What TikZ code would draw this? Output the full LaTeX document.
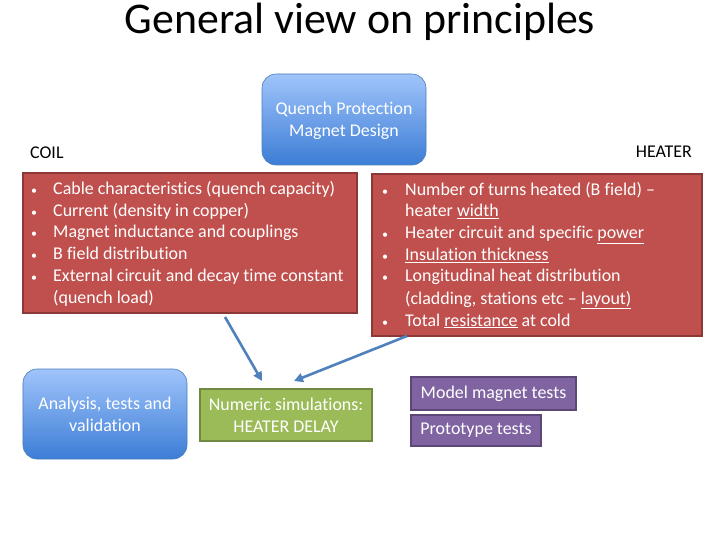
\documentclass[tikz,border=0pt]{standalone}
\usepackage{fontspec}
\setmainfont[Ligatures={NoCommon}]{Carlito}
\usetikzlibrary{arrows.meta}
\definecolor{redfill}{HTML}{C0504D}
\definecolor{redline}{HTML}{8C3836}
\definecolor{bluetop}{HTML}{A0C4FA}
\definecolor{bluebot}{HTML}{3C7DD6}
\definecolor{blueline}{HTML}{4A7EBB}
\definecolor{greenfill}{HTML}{9BBB59}
\definecolor{greenline}{HTML}{71893F}
\definecolor{purplefill}{HTML}{8064A2}
\definecolor{purpleline}{HTML}{5C4776}
\definecolor{arrowblue}{HTML}{4F81BD}
\tikzset{
  bluebox/.style={draw=blueline, line width=0.6bp, rounded corners=14bp, top color=bluetop, bottom color=bluebot, text=white, align=center, font=\fontsize{18}{22}\selectfont},
  redbox/.style={draw=redline, line width=2.2bp, fill=redfill},
  greenbox/.style={draw=greenline, line width=2.2bp, fill=greenfill, text=white, align=center, font=\fontsize{18}{22}\selectfont},
  purplebox/.style={draw=purpleline, line width=2.2bp, fill=purplefill, text=white, font=\fontsize{18}{20}\selectfont, inner sep=0pt},
  item/.style={anchor=base west, inner sep=0pt, text=white, font=\fontsize{18}{20}\selectfont},
  bulletmark/.style={anchor=base, inner sep=0pt, text=white, font=\fontsize{12}{14}\selectfont},
  label/.style={anchor=base west, inner sep=0pt, font=\fontsize{18}{20}\selectfont},
  conn/.style={draw=arrowblue, line width=2.6bp, -{Triangle[length=9bp,width=9bp]}}
}
\newcommand{\bul}{\textbullet}
\begin{document}
\begin{tikzpicture}[x=1bp,y=-1bp]
\useasboundingbox (0,0) rectangle (720,540);
\fill[white] (0,0) rectangle (720,540);

\node[inner sep=0pt, font=\fontsize{44}{50}\selectfont] (title) at (360,22) {General view on principles};

\node[bluebox, minimum width=164bp, minimum height=91bp, text depth=0bp] (qp) at (344,119.5) {Quench Protection\\Magnet Design};

\node[label] (coillbl) at (30,159) {COIL};
\node[label, anchor=base east] (heaterlbl) at (692,158) {HEATER};

% coil box
\node[redbox, minimum width=334bp, minimum height=140bp, inner sep=0pt] (coil) at (190,243) {};
\foreach \y/\t [count=\i] in {195/Cable characteristics (quench capacity),217/Current (density in copper),238/Magnet inductance and couplings,260/B field distribution,282/External circuit and decay time constant}{
  \node[bulletmark] (cb\i) at (34,\y) {\bul};
  \node[item] (ct\i) at (53,\y) {\t};
}
\node[item] (ct6) at (53,303) {(quench load)};

% heater box
\node[redbox, minimum width=330bp, minimum height=162bp, inner sep=0pt] (heater) at (537,255) {};
\node[bulletmark] (hb1) at (385,196) {\bul};
\node[item] (ht1) at (405,196) {Number of turns heated (B field) --};
\node[item] (ht1b) at (405,217) {heater \underline{width}};
\node[bulletmark] (hb2) at (385,239) {\bul};
\node[item] (ht2) at (405,239) {Heater circuit and specific \underline{power}};
\node[bulletmark] (hb3) at (385,261) {\bul};
\node[item] (ht3) at (405,261) {\underline{Insulation thickness}};
\node[bulletmark] (hb4) at (385,282) {\bul};
\node[item] (ht4) at (405,282) {Longitudinal heat distribution};
\node[item] (ht4b) at (405,304) {(cladding, stations etc -- \underline{layout)}};
\node[bulletmark] (hb5) at (385,326) {\bul};
\node[item] (ht5) at (405,326) {Total \underline{resistance} at cold};

% bottom row
\node[bluebox, minimum width=164bp, minimum height=90bp] (ana) at (105,414) {Analysis, tests and\\validation};
\node[greenbox, minimum width=172bp, minimum height=52bp] (num) at (286,415) {Numeric simulations:\\HEATER DELAY};
\node[purplebox, minimum width=165bp, minimum height=33bp] (mod) at (493.5,393.5) {Model magnet tests};
\node[purplebox, minimum width=130bp, minimum height=31bp] (pro) at (476,430.5) {Prototype tests};

% arrows
\coordinate (a1s) at (225,317);
\coordinate (a1e) at (262,381);
\coordinate (a2s) at (407,336);
\coordinate (a2e) at (294,381);
\draw[conn] (a1s) -- (a1e);
\draw[conn] (a2s) -- (a2e);
\end{tikzpicture}
\end{document}
